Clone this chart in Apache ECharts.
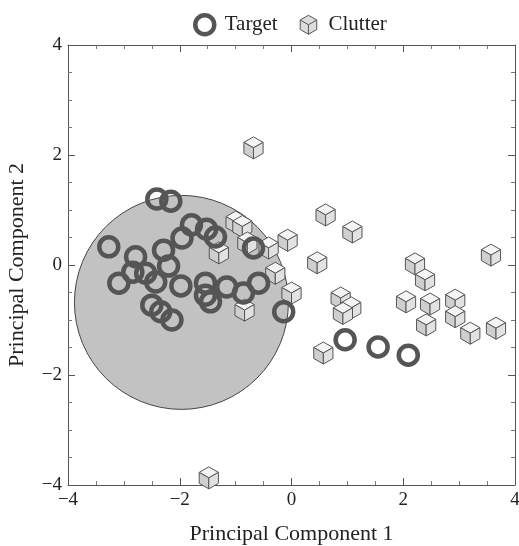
<!DOCTYPE html>
<html>
<head>
<meta charset="utf-8">
<script src="https://cdn.jsdelivr.net/npm/echarts@6/dist/echarts.min.js"></script>
<style>
  html, body { margin: 0; padding: 0; background: #fff; }
  #main { width: 519px; height: 546px; }
</style>
</head>
<body>
<div id="main"></div>
<script>
// target points (rings)
var targetX = [-2.41, -2.16, -3.27, -2.79, -2.29, -1.96, -1.79, -1.52, -1.36, -2.2,
               -2.84, -2.61, -2.43, -3.09, -1.98, -1.54, -1.54, -1.45, -1.16, -0.86,
               -0.59, -0.68, -2.5, -2.34, -2.14, -0.14, 0.96, 1.55, 2.09];
var targetY = [1.2, 1.16, 0.33, 0.15, 0.27, 0.49, 0.73, 0.65, 0.51, -0.02,
               -0.13, -0.15, -0.31, -0.33, -0.38, -0.33, -0.55, -0.67, -0.4, -0.51,
               -0.33, 0.31, -0.73, -0.85, -1.0, -0.85, -1.36, -1.49, -1.64];

// clutter points (cubes)
var clutterX = [-0.68, 0.61, 1.09, -0.07, 0.46, -1.0, -0.88, -1.3, -0.79, -0.41,
                -0.29, 0.0, -0.84, 0.88, 1.07, 0.92, 2.21, 2.39, 2.05, 2.48,
                2.93, 2.93, 2.41, 3.2, 3.66, 3.57, 0.57, -1.48];
var clutterY = [2.13, 0.91, 0.6, 0.45, 0.04, 0.78, 0.7, 0.22, 0.4, 0.31,
                -0.15, -0.51, -0.82, -0.6, -0.78, -0.88, 0.02, -0.27, -0.67, -0.71,
                -0.64, -0.94, -1.09, -1.24, -1.15, 0.18, -1.6, -3.87];

// decision region
var regionCenter = [-1.97, -0.68];
var regionRadius = [1.93];

var chart = echarts.init(document.getElementById('main'));

var targetData = targetX.map(function (x, i) { return [x, targetY[i]]; });
var clutterData = clutterX.map(function (x, i) { return [x, clutterY[i]]; });

var serif = 'Liberation Serif';
var cubeIcon = 'path://M0,-10 L8.7,-5 L8.7,5 L0,10 L-8.7,5 L-8.7,-5 Z M0,0 L-8.7,-5 M0,0 L8.7,-5 M0,0 L0,10';

function axisCommon(extra) {
    var a = {
        min: -4, max: 4, interval: 2,
        axisLine: { show: true, onZero: false, lineStyle: { color: '#555', width: 1 } },
        axisTick: { show: true, inside: true, length: 7, lineStyle: { color: '#555' } },
        minorTick: { show: true, splitNumber: 4, length: 4, lineStyle: { color: '#777' } },
        splitLine: { show: false },
        axisLabel: { color: '#222', fontFamily: serif, fontSize: 19, margin: 6,
            formatter: function (v) { return String(v).replace('-', '\u2212'); } }
    };
    for (var k in extra) a[k] = extra[k];
    return a;
}

var option = {
    backgroundColor: '#fff',
    animation: false,
    grid: { left: 68, right: 4, top: 45, bottom: 61, outerBoundsMode: 'none' },
    legend: {
        top: 8, left: 188, itemGap: 22, itemWidth: 20, itemHeight: 19,
        textStyle: { fontFamily: serif, fontSize: 21, color: '#222', padding: [0, 0, 0, 5] },
        data: [
            { name: 'Target', icon: 'circle', itemStyle: { color: 'rgba(0,0,0,0)', borderColor: '#555', borderWidth: 4.5 } },
            { name: 'Clutter', icon: cubeIcon, itemStyle: { color: '#dcdcdc', borderColor: '#555', borderWidth: 1 } }
        ]
    },
    xAxis: [
        axisCommon({ type: 'value', position: 'bottom',
            name: 'Principal Component 1', nameLocation: 'middle', nameGap: 38,
            nameTextStyle: { fontFamily: serif, fontSize: 22, color: '#222' } }),
        axisCommon({ type: 'value', position: 'top', axisLabel: { show: false } })
    ],
    yAxis: [
        axisCommon({ type: 'value', position: 'left',
            name: 'Principal Component 2', nameLocation: 'middle', nameGap: 40,
            nameTextStyle: { fontFamily: serif, fontSize: 22, color: '#222' } }),
        axisCommon({ type: 'value', position: 'right', axisLabel: { show: false } })
    ],
    series: [
        {
            name: 'region',
            type: 'custom',
            silent: true,
            z: 1,
            data: [[regionCenter[0], regionCenter[1], regionRadius[0]]],
            renderItem: function (params, api) {
                var c = api.coord([api.value(0), api.value(1)]);
                var s = api.size([api.value(2), api.value(2)]);
                return {
                    type: 'circle',
                    shape: { cx: c[0], cy: c[1], r: (s[0] + s[1]) / 2 },
                    style: { fill: '#c2c2c2', stroke: '#444', lineWidth: 1 }
                };
            }
        },
        {
            name: 'Clutter',
            type: 'custom',
            z: 3,
            data: clutterData,
            itemStyle: { color: '#dcdcdc', borderColor: '#555', borderWidth: 1 },
            renderItem: function (params, api) {
                var c = api.coord([api.value(0), api.value(1)]);
                var x = c[0], y = c[1], s = 11, a = 9.6, h = 5.5;
                function face(pts, fill) {
                    return { type: 'polygon', shape: { points: pts },
                        style: { fill: fill, stroke: '#555', lineWidth: 1 } };
                }
                return {
                    type: 'group',
                    children: [
                        face([[x, y], [x - a, y - h], [x, y - s], [x + a, y - h]], '#f4f4f4'),
                        face([[x, y], [x - a, y - h], [x - a, y + h], [x, y + s]], '#cfcfcf'),
                        face([[x, y], [x + a, y - h], [x + a, y + h], [x, y + s]], '#e2e2e2')
                    ]
                };
            }
        },
        {
            name: 'Target',
            type: 'scatter',
            z: 4,
            symbol: 'circle',
            symbolSize: 19,
            data: targetData,
            itemStyle: { color: 'rgba(0,0,0,0)', borderColor: '#555', borderWidth: 4.5, opacity: 1 }
        }
    ]
};

chart.setOption(option);
</script>
</body>
</html>
